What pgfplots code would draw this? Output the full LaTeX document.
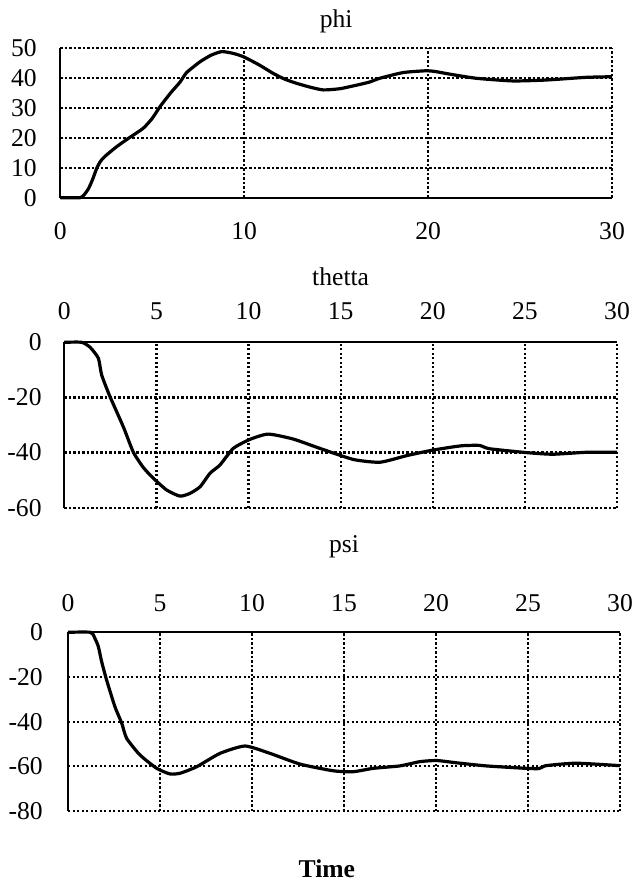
\documentclass[border=0pt]{standalone}
\usepackage{fontspec}
\setmainfont{Liberation Serif}
\usepackage{pgfplots}
\pgfplotsset{compat=1.18}

% shared look of the three panels
\pgfplotsset{
 panel/.style={
  scale only axis, clip=false,
  xmin=0, xmax=30,
  axis y line*=left,
  axis line style={-, line width=1pt, black},
  major tick length=0pt,
  grid=major,
  major grid style={black, line width=1.1pt, dash pattern=on 1.1pt off 1.15pt},
  yticklabel style={anchor=east, inner sep=0pt},
  xticklabel style={anchor=base, inner sep=0pt},
  every axis title shift=0pt,
  title style={anchor=base, at={(0.5,1)}, inner sep=0pt},
 },
 curve/.style={black, line width=1.6pt, line join=round, smooth, tension=0.35, mark=none},
}

\begin{document}
\fontsize{12.8}{15}\selectfont
\begin{tikzpicture}
\useasboundingbox (0pt,0pt) rectangle (318pt,-441pt);

% phi
\begin{axis}[panel,
 at={(30.15pt,-98.85pt)}, anchor=south west,
 width=275.85pt, height=74.85pt,
 axis x line*=bottom,
 ymin=0, ymax=50,
 xtick={0,10,20,30}, xticklabels={0,10,20,30},
 ytick={0,10,20,30,40,50}, yticklabels={0,10,20,30,40,50},
 xticklabel style={yshift=-20.8pt},
 yticklabel style={xshift=-11.65pt},
 title={phi}, title style={yshift=10pt}]
\addplot[curve] coordinates {
(0,0) (1.07,0) (1.3,1) (1.54,3.1) (1.75,6) (1.98,9.8) (2.2,12.3) (2.52,14.3)
(3.1,17.2) (3.7,19.8) (4.51,23.2) (5.0,26.5) (5.42,30.4) (6.0,35) (6.51,38.6)
(6.87,41.8) (7.6,45.4) (8.2,47.6) (8.78,48.8) (9.4,48.2) (9.95,47.1) (10.8,44.4)
(11.58,41.5) (12.2,39.6) (12.85,38.2) (13.6,36.9) (14.3,36) (15.2,36.4) (16.12,37.6)
(16.8,38.6) (17.38,39.9) (18.65,41.8) (19.92,42.4) (20.43,42.1) (21.15,41.3)
(22.6,39.9) (24.6,39.0) (26.41,39.3) (28.59,40.2) (30,40.4)};
\end{axis}

% thetta
\begin{axis}[panel,
 at={(32.15pt,-253.85pt)}, anchor=south west,
 width=276.35pt, height=82.7pt,
 axis x line*=top,
 ymin=-60, ymax=0,
 xtick={0,5,10,15,20,25,30}, xticklabels={0,5,10,15,20,25,30},
 ytick={-60,-40,-20,0}, yticklabels={-60,-40,-20,0},
 xticklabel style={yshift=11.5pt},
 yticklabel style={xshift=-11.15pt},
 title={thetta}, title style={yshift=28.65pt}]
\addplot[curve] coordinates {
(0,0) (0.94,0) (1.4,-1.8) (1.85,-5.8) (2.03,-11.9) (2.48,-19.7) (3.2,-30.6)
(3.75,-39.9) (4.3,-45.5) (4.83,-49.3) (5.56,-53.6) (6.28,-55.8) (6.82,-54.8)
(7.37,-52.4) (7.91,-47.5) (8.45,-44.5) (9.17,-38.5) (10.08,-35.2) (11.07,-33.3)
(12.43,-35.1) (13.88,-38.5) (15.69,-42.5) (17.14,-43.5) (18.59,-41.1) (19.85,-39.3)
(20.94,-38.1) (21.63,-37.5) (22.53,-37.4) (23.07,-38.6) (25.07,-40.0) (26.51,-40.6)
(28.32,-39.9) (30,-39.9)};
\end{axis}

% psi
\begin{axis}[panel,
 at={(34pt,-405.5pt)}, anchor=south west,
 width=276pt, height=89.35pt,
 axis x line*=top,
 ymin=-80, ymax=0,
 xtick={0,5,10,15,20,25,30}, xticklabels={0,5,10,15,20,25,30},
 ytick={-80,-60,-40,-20,0}, yticklabels={-80,-60,-40,-20,0},
 xticklabel style={yshift=10.3pt},
 yticklabel style={xshift=-12.4pt},
 title={psi}, title style={yshift=39.65pt},
 xlabel={\textbf{Time}},
 xlabel style={at={(axis description cs:0.469,0)}, anchor=base, inner sep=0pt, yshift=-33pt}]
\addplot[curve] coordinates {
(0,0) (1.23,0) (1.45,-2.5) (1.65,-6.4) (1.83,-13.2) (2.1,-21.4) (2.55,-33.3)
(2.92,-40.7) (3.19,-47.5) (3.91,-54.9) (4.82,-60.9) (5.54,-63.4) (6.09,-63.1)
(6.99,-60.2) (8.26,-54.2) (9.62,-50.9) (10.98,-54.2) (12.61,-59.0) (14.42,-62.0)
(15.51,-62.4) (16.59,-60.9) (18.04,-59.8) (19.13,-57.9) (20.04,-57.4) (21.09,-58.4)
(22.72,-59.8) (24.89,-60.9) (25.61,-61.0) (25.98,-59.7) (27.61,-58.6) (30,-59.7)};
\end{axis}
\end{tikzpicture}
\end{document}
